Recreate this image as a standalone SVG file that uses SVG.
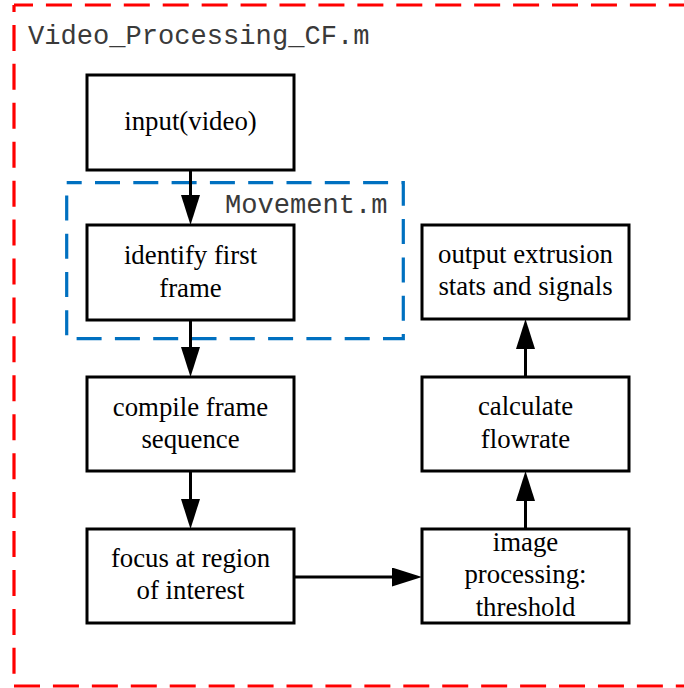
<svg xmlns="http://www.w3.org/2000/svg" width="684" height="688" viewBox="0 0 684 688">
  <style>
    .box { fill: #ffffff; stroke: #000000; stroke-width: 3; }
    .lbl { font-family: "Liberation Serif", "Times New Roman", serif; font-size: 26.8px; text-anchor: middle; fill: #000000; }
    .file { font-family: "Liberation Mono", "Courier New", monospace; font-size: 27.1px; fill: #3a3a3a; }
    .red { stroke: #ff0000; stroke-width: 3.2; fill: none; stroke-dasharray: 26 12.93; }
    .blue { stroke: #0070c0; stroke-width: 3.2; fill: none; stroke-dasharray: 25 13.3; }
    .edge { stroke: #000000; stroke-width: 3; fill: none; marker-end: url(#head); }
  </style>
  <defs>
    <marker id="head" markerUnits="userSpaceOnUse" markerWidth="30" markerHeight="20" refX="20" refY="9.5" orient="auto">
      <path d="M0,0 L30,9.5 L0,19 z" fill="#000000"/>
    </marker>
  </defs>
  <rect width="684" height="688" fill="#ffffff"/>

  <!-- outer module boundary: Video_Processing_CF.m -->
  <g id="module-video-processing">
    <line class="red" x1="14" y1="5" x2="684" y2="5" stroke-dashoffset="7"/>
    <line class="red" x1="14" y1="5" x2="14" y2="686" stroke-dashoffset="19"/>
    <line class="red" x1="14" y1="686" x2="684" y2="686"/>
    <text class="file" x="28" y="44">Video_Processing_CF.m</text>
  </g>

  <!-- inner module boundary: Movement.m -->
  <g id="module-movement">
    <rect class="blue" x="66.7" y="182.7" width="336.6" height="156" stroke-dashoffset="10"/>
    <text class="file" x="225" y="213">Movement.m</text>
  </g>

  <g id="node-input">
    <rect class="box" x="87" y="75" width="207" height="95"/>
    <text class="lbl" x="190.5" y="130">input(video)</text>
  </g>
  <g id="node-identify">
    <rect class="box" x="87" y="225" width="207" height="95"/>
    <text class="lbl" x="190.5" y="264">identify first</text>
    <text class="lbl" x="190.5" y="296.5">frame</text>
  </g>
  <g id="node-compile">
    <rect class="box" x="87" y="377" width="207" height="94"/>
    <text class="lbl" x="190.5" y="416">compile frame</text>
    <text class="lbl" x="190.5" y="448">sequence</text>
  </g>
  <g id="node-focus">
    <rect class="box" x="87" y="529" width="207" height="94"/>
    <text class="lbl" x="190.5" y="567">focus at region</text>
    <text class="lbl" x="190.5" y="599">of interest</text>
  </g>
  <g id="node-threshold">
    <rect class="box" x="422" y="529" width="207" height="94"/>
    <text class="lbl" x="525.5" y="550.5">image</text>
    <text class="lbl" x="525.5" y="583">processing:</text>
    <text class="lbl" x="525.5" y="616">threshold</text>
  </g>
  <g id="node-flowrate">
    <rect class="box" x="422" y="377" width="207" height="94"/>
    <text class="lbl" x="525.5" y="415">calculate</text>
    <text class="lbl" x="525.5" y="448">flowrate</text>
  </g>
  <g id="node-output">
    <rect class="box" x="422" y="225" width="207" height="94"/>
    <text class="lbl" x="525.5" y="263">output extrusion</text>
    <text class="lbl" x="525.5" y="295">stats and signals</text>
  </g>

  <g id="connectors">
    <line class="edge" x1="190.5" y1="170" x2="190.5" y2="215"/>
    <line class="edge" x1="190.5" y1="320" x2="190.5" y2="367"/>
    <line class="edge" x1="190.5" y1="471" x2="190.5" y2="519"/>
    <line class="edge" x1="294" y1="577" x2="412" y2="577"/>
    <line class="edge" x1="525.5" y1="529" x2="525.5" y2="481"/>
    <line class="edge" x1="525.5" y1="377" x2="525.5" y2="329"/>
  </g>
</svg>
